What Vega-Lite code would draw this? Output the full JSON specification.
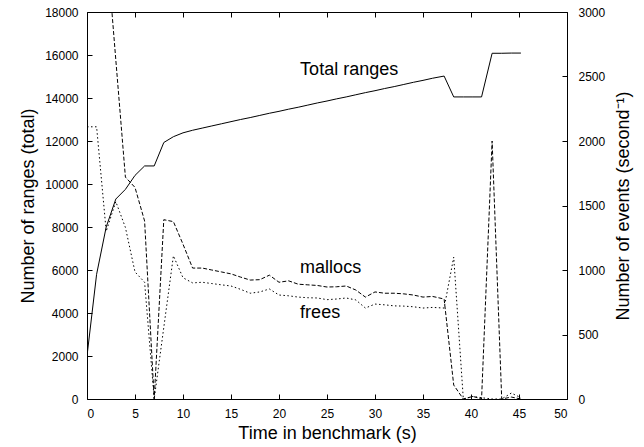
{
  "$schema": "https://vega.github.io/schema/vega-lite/v6.json",
  "width": 480,
  "height": 387,
  "autosize": {"type": "none"},
  "padding": {"left": 87, "top": 12, "right": 77, "bottom": 48},
  "background": "white",
  "config": {
    "view": {"stroke": "black", "strokeWidth": 1},
    "font": "Liberation Sans",
    "axis": {
      "grid": false,
      "domain": false,
      "tickColor": "black",
      "tickSize": -5,
      "labelFontSize": 12,
      "labelColor": "black",
      "labelFont": "Liberation Sans",
      "titleFontSize": 18,
      "titleFontWeight": "normal",
      "titleColor": "black",
      "titleFont": "Liberation Sans"
    }
  },
  "datasets": {
    "total": [
      {"t": 0, "v": 2000}, {"t": 1, "v": 5800}, {"t": 2, "v": 8000}, {"t": 3, "v": 9300},
      {"t": 4, "v": 9750}, {"t": 5, "v": 10400}, {"t": 6, "v": 10840}, {"t": 7, "v": 10840},
      {"t": 8, "v": 11930}, {"t": 9, "v": 12200}, {"t": 10, "v": 12380}, {"t": 11, "v": 12500},
      {"t": 12, "v": 12600}, {"t": 13, "v": 12700}, {"t": 14, "v": 12800}, {"t": 15, "v": 12900},
      {"t": 16, "v": 13000}, {"t": 17, "v": 13090}, {"t": 18, "v": 13190}, {"t": 19, "v": 13290},
      {"t": 20, "v": 13380}, {"t": 21, "v": 13480}, {"t": 22, "v": 13570}, {"t": 23, "v": 13670},
      {"t": 24, "v": 13770}, {"t": 25, "v": 13860}, {"t": 26, "v": 13960}, {"t": 27, "v": 14050},
      {"t": 28, "v": 14150}, {"t": 29, "v": 14250}, {"t": 30, "v": 14340}, {"t": 31, "v": 14440},
      {"t": 32, "v": 14530}, {"t": 33, "v": 14630}, {"t": 34, "v": 14730}, {"t": 35, "v": 14820},
      {"t": 36, "v": 14920}, {"t": 37.2, "v": 15020}, {"t": 38.2, "v": 14050}, {"t": 39.2, "v": 14050},
      {"t": 40.2, "v": 14050}, {"t": 41.1, "v": 14050}, {"t": 42.2, "v": 16080}, {"t": 43.2, "v": 16080},
      {"t": 44.2, "v": 16090}, {"t": 45.2, "v": 16090}
    ],
    "mallocs": [
      {"t": 0, "v": 4400}, {"t": 1, "v": 4400}, {"t": 2, "v": 3550}, {"t": 3, "v": 2630},
      {"t": 4, "v": 1720}, {"t": 5, "v": 1640}, {"t": 6, "v": 1380}, {"t": 7, "v": 0},
      {"t": 8, "v": 1390}, {"t": 9, "v": 1375}, {"t": 10, "v": 1200}, {"t": 11, "v": 1015},
      {"t": 12, "v": 1015}, {"t": 13, "v": 1000}, {"t": 14, "v": 985}, {"t": 15, "v": 970},
      {"t": 16, "v": 945}, {"t": 17, "v": 922}, {"t": 18, "v": 925}, {"t": 19, "v": 960},
      {"t": 20, "v": 905}, {"t": 21, "v": 916}, {"t": 22, "v": 890}, {"t": 23, "v": 885},
      {"t": 24, "v": 880}, {"t": 25, "v": 868}, {"t": 26, "v": 870}, {"t": 27, "v": 876},
      {"t": 28, "v": 845}, {"t": 29, "v": 790}, {"t": 30, "v": 830}, {"t": 31, "v": 820},
      {"t": 32, "v": 820}, {"t": 33, "v": 815}, {"t": 34, "v": 806}, {"t": 35, "v": 790},
      {"t": 36, "v": 795}, {"t": 37.2, "v": 775}, {"t": 38.2, "v": 108}, {"t": 39.2, "v": 0},
      {"t": 40.2, "v": 20}, {"t": 41.1, "v": 0}, {"t": 42.2, "v": 2000}, {"t": 43.2, "v": 0},
      {"t": 44.2, "v": 15}, {"t": 45.2, "v": 0}
    ],
    "frees": [
      {"t": 0, "v": 2110}, {"t": 1, "v": 2110}, {"t": 2, "v": 1300}, {"t": 3, "v": 1530},
      {"t": 4, "v": 1330}, {"t": 5, "v": 985}, {"t": 6, "v": 905}, {"t": 7, "v": 0},
      {"t": 8, "v": 555}, {"t": 9, "v": 1110}, {"t": 10, "v": 940}, {"t": 11, "v": 900},
      {"t": 12, "v": 905}, {"t": 13, "v": 895}, {"t": 14, "v": 885}, {"t": 15, "v": 876},
      {"t": 16, "v": 850}, {"t": 17, "v": 820}, {"t": 18, "v": 830}, {"t": 19, "v": 853},
      {"t": 20, "v": 806}, {"t": 21, "v": 800}, {"t": 22, "v": 790}, {"t": 23, "v": 785},
      {"t": 24, "v": 783}, {"t": 25, "v": 770}, {"t": 26, "v": 775}, {"t": 27, "v": 783},
      {"t": 28, "v": 768}, {"t": 29, "v": 705}, {"t": 30, "v": 736}, {"t": 31, "v": 730},
      {"t": 32, "v": 722}, {"t": 33, "v": 720}, {"t": 34, "v": 715}, {"t": 35, "v": 705},
      {"t": 36, "v": 710}, {"t": 37.2, "v": 705}, {"t": 38.2, "v": 1100}, {"t": 39.2, "v": 0},
      {"t": 40.2, "v": 20}, {"t": 41.1, "v": 10}, {"t": 42.2, "v": 0}, {"t": 43.2, "v": 0},
      {"t": 44.2, "v": 46}, {"t": 45.2, "v": 10}
    ]
  },
  "layer": [
    {
      "encoding": {
        "x": {
          "field": "t", "type": "quantitative",
          "scale": {"domain": [0, 50], "nice": false},
          "axis": {
            "orient": "bottom",
            "values": [0, 5, 10, 15, 20, 25, 30, 35, 40, 45, 50],
            "title": "Time in benchmark (s)",
            "labelPadding": 14,
            "titlePadding": 5
          }
        },
        "y": {
          "field": "v", "type": "quantitative",
          "scale": {"domain": [0, 18000], "nice": false},
          "axis": {
            "orient": "left",
            "values": [0, 2000, 4000, 6000, 8000, 10000, 12000, 14000, 16000, 18000],
            "format": "d",
            "title": "Number of ranges (total)",
            "labelPadding": 14,
            "titlePadding": 7
          }
        }
      },
      "layer": [
        {
          "data": {"name": "total"},
          "mark": {"type": "line", "color": "black", "strokeWidth": 1, "clip": true}
        },
        {
          "data": {"values": [{"label": "Total ranges", "t": 22.2, "v": 15070}]},
          "mark": {"type": "text", "align": "left", "baseline": "alphabetic", "fontSize": 18, "font": "Liberation Sans", "color": "black"},
          "encoding": {"text": {"field": "label"}}
        }
      ]
    },
    {
      "encoding": {
        "x": {
          "field": "t", "type": "quantitative",
          "scale": {"domain": [0, 50], "nice": false},
          "axis": {
            "orient": "top",
            "values": [0, 5, 10, 15, 20, 25, 30, 35, 40, 45, 50],
            "labels": false,
            "title": null
          }
        },
        "y": {
          "field": "v", "type": "quantitative",
          "scale": {"domain": [0, 3000], "nice": false},
          "axis": {
            "orient": "right",
            "values": [0, 500, 1000, 1500, 2000, 2500, 3000],
            "format": "d",
            "title": "Number of events (second⁻¹)",
            "titleAngle": 270,
            "titleBaseline": "top",
            "labelPadding": 16,
            "titlePadding": 10
          }
        }
      },
      "layer": [
        {
          "data": {"name": "mallocs"},
          "mark": {"type": "line", "color": "black", "strokeWidth": 1, "strokeDash": [4, 2], "clip": true}
        },
        {
          "data": {"name": "frees"},
          "mark": {"type": "line", "color": "black", "strokeWidth": 1, "strokeDash": [1.5, 2.5], "clip": true}
        },
        {
          "data": {"values": [{"label": "mallocs", "t": 22.2, "v": 979}, {"label": "frees", "t": 22.2, "v": 625}]},
          "mark": {"type": "text", "align": "left", "baseline": "alphabetic", "fontSize": 18, "font": "Liberation Sans", "color": "black"},
          "encoding": {"text": {"field": "label"}}
        }
      ]
    }
  ],
  "resolve": {"scale": {"y": "independent"}, "axis": {"x": "independent"}}
}
